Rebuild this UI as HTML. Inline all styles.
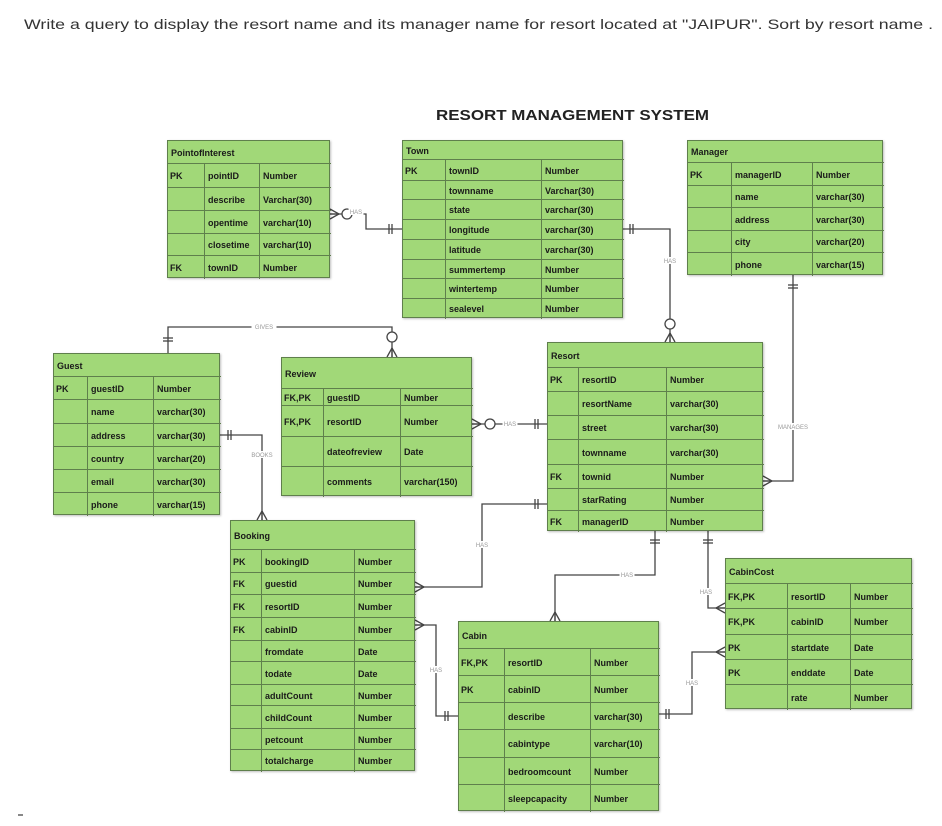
<!DOCTYPE html>
<html><head><meta charset="utf-8"><style>
body{margin:0;width:942px;height:826px;background:#fff;position:relative;overflow:hidden;font-family:"Liberation Sans",sans-serif}
.t{position:absolute;background:#a1d878;border:1px solid #5f7f4c;box-sizing:border-box;box-shadow:1px 1px 2px rgba(0,0,0,.25)}
.c{position:absolute;border-left:1px solid #5f7f4c;border-top:1px solid #5f7f4c;box-sizing:border-box;font-size:9px;font-weight:bold;color:#1a1a1a;display:flex;align-items:center;padding-left:3px;white-space:nowrap;overflow:hidden}
.h{position:absolute;font-size:9px;font-weight:bold;color:#1a1a1a;left:3px;top:0;display:flex;align-items:center}
svg{position:absolute;left:0;top:0}
</style></head><body>
<svg width="942" height="826">
<text x="24" y="29" font-size="14" fill="#333" textLength="909" lengthAdjust="spacingAndGlyphs" font-family="Liberation Sans">Write a query to display the resort name and its manager name for resort located at "JAIPUR". Sort by resort name .</text>
<text x="436" y="120" font-size="15" font-weight="bold" fill="#222" textLength="273" lengthAdjust="spacingAndGlyphs" font-family="Liberation Sans">RESORT MANAGEMENT SYSTEM</text>
<line x1="18" y1="815" x2="23" y2="815" stroke="#888" stroke-width="2"/>
</svg>
<div id="root"></div>
<svg id="lines" width="942" height="826"></svg>
<script>
function tbl(x,y,w,h,th,title,cols,rows,data){
 var d=document.createElement('div');d.className='t';
 d.style.cssText='left:'+x+'px;top:'+y+'px;width:'+(w-x)+'px;height:'+(h-y)+'px';
 var hh=document.createElement('div');hh.className='h';hh.textContent=title;hh.style.height=(th-y)+'px';d.appendChild(hh);
 for(var r=0;r<rows.length-1;r++){for(var c=0;c<3;c++){
  var e=document.createElement('div');e.className='c';
  var l=cols[c]-x, t=rows[r]-y;
  e.style.cssText='left:'+(c==0?-1:l-1)+'px;top:'+(t-1)+'px;width:'+(cols[c+1]-cols[c]+1)+'px;height:'+(rows[r+1]-rows[r]+1)+'px;'+(c==0?'border-left:none;':'');
  e.textContent=data[r][c];d.appendChild(e);}}
 document.body.appendChild(d);
}
tbl(167,140,330,278,163,'PointofInterest',[167,204,259,330],[163,187,210,233,255,278],
[['PK','pointID','Number'],['','describe','Varchar(30)'],['','opentime','varchar(10)'],['','closetime','varchar(10)'],['FK','townID','Number']]);
tbl(402,140,623,318,159,'Town',[402,445,541,623],[159,180,199,219,239,259,278,298,318],
[['PK','townID','Number'],['','townname','Varchar(30)'],['','state','varchar(30)'],['','longitude','varchar(30)'],['','latitude','varchar(30)'],['','summertemp','Number'],['','wintertemp','Number'],['','sealevel','Number']]);
tbl(687,140,883,275,162,'Manager',[687,731,812,883],[162,185,207,230,252,275],
[['PK','managerID','Number'],['','name','varchar(30)'],['','address','varchar(30)'],['','city','varchar(20)'],['','phone','varchar(15)']]);
tbl(53,353,220,515,376,'Guest',[53,87,153,220],[376,399,423,446,469,492,515],
[['PK','guestID','Number'],['','name','varchar(30)'],['','address','varchar(30)'],['','country','varchar(20)'],['','email','varchar(30)'],['','phone','varchar(15)']]);
tbl(281,357,472,496,388,'Review',[281,323,400,472],[388,405,436,466,496],
[['FK,PK','guestID','Number'],['FK,PK','resortID','Number'],['','dateofreview','Date'],['','comments','varchar(150)']]);
tbl(547,342,763,531,367,'Resort',[547,578,666,763],[367,391,415,439,464,488,510,531],
[['PK','resortID','Number'],['','resortName','varchar(30)'],['','street','varchar(30)'],['','townname','varchar(30)'],['FK','townid','Number'],['','starRating','Number'],['FK','managerID','Number']]);
tbl(230,520,415,771,549,'Booking',[230,261,354,415],[549,572,594,617,640,661,684,705,728,749,771],
[['PK','bookingID','Number'],['FK','guestid',' Number'],['FK','resortID','Number'],['FK','cabinID','Number'],['','fromdate','Date'],['','todate','Date'],['','adultCount','Number'],['','childCount','Number'],['','petcount','Number'],['','totalcharge','Number']]);
tbl(458,621,659,811,648,'Cabin',[458,504,590,659],[648,675,702,729,757,784,811],
[['FK,PK','resortID','Number'],['PK','cabinID','Number'],['','describe','varchar(30)'],['','cabintype','varchar(10)'],['','bedroomcount','Number'],['','sleepcapacity','Number']]);
tbl(725,558,912,709,583,'CabinCost',[725,787,850,912],[583,608,634,659,684,709],
[['FK,PK','resortID','Number'],['FK,PK','cabinID','Number'],['PK','startdate','Date'],['PK','enddate','Date'],['','rate','Number']]);

var s='';var st='stroke="#444" stroke-width="1.3" fill="none"';
function pl(p){s+='<polyline points="'+p+'" '+st+'/>';}
function bars(x,y,dir){
 if(dir=='h'){s+='<line x1="'+x+'" y1="'+(y-5)+'" x2="'+x+'" y2="'+(y+5)+'" '+st+'/><line x1="'+(x+3)+'" y1="'+(y-5)+'" x2="'+(x+3)+'" y2="'+(y+5)+'" '+st+'/>';}
 else{s+='<line x1="'+(x-5)+'" y1="'+y+'" x2="'+(x+5)+'" y2="'+y+'" '+st+'/><line x1="'+(x-5)+'" y1="'+(y+3)+'" x2="'+(x+5)+'" y2="'+(y+3)+'" '+st+'/>';}
}
function crow(x,y,dx,dy){
 var px=x+dx*9,py=y+dy*9;
 if(dx!=0){pl(x+','+(y-5)+' '+px+','+py+' '+x+','+(y+5));pl(x+','+y+' '+px+','+py);}
 else{pl((x-5)+','+y+' '+px+','+py+' '+(x+5)+','+y);pl(x+','+y+' '+px+','+py);}
}
function circ(x,y){s+='<circle cx="'+x+'" cy="'+y+'" r="5" fill="#fff" stroke="#444" stroke-width="1.3"/>';}
function lbl(x,y,t){s+='<rect x="'+(x-t.length*2.5)+'" y="'+(y-4)+'" width="'+(t.length*5)+'" height="7" fill="#fff"/><text x="'+x+'" y="'+(y+2)+'" font-size="6" fill="#999" text-anchor="middle" font-family="Liberation Sans">'+t+'</text>';}
pl('330,214 366,214 366,229 402,229');crow(330,214,1,0);circ(347,214);bars(389,229,'h');lbl(356,212,'HAS');
pl('623,229 670,229 670,342');bars(630,229,'h');circ(670,324);crow(670,342,0,-1);lbl(670,261,'HAS');
pl('793,275 793,481 763,481');bars(793,285,'v');crow(763,481,1,0);lbl(793,427,'MANAGES');
pl('168,353 168,327 392,327 392,357');bars(168,338,'v');circ(392,337);crow(392,357,0,-1);lbl(264,327,'GIVES');
pl('220,435 262,435 262,520');bars(228,435,'h');crow(262,520,0,-1);lbl(262,455,'BOOKS');
pl('472,424 547,424');crow(472,424,1,0);circ(490,424);bars(535,424,'h');lbl(510,424,'HAS');
pl('547,504 482,504 482,587 415,587');bars(535,504,'h');crow(415,587,1,0);lbl(482,545,'HAS');
pl('415,625 436,625 436,716 458,716');crow(415,625,1,0);bars(445,716,'h');lbl(436,670,'HAS');
pl('655,531 655,575 555,575 555,621');bars(655,540,'v');crow(555,621,0,-1);lbl(627,575,'HAS');
pl('708,531 708,608 725,608');bars(708,540,'v');crow(725,608,-1,0);lbl(706,592,'HAS');
pl('659,714 692,714 692,652 725,652');bars(666,714,'h');crow(725,652,-1,0);lbl(692,683,'HAS');
document.getElementById('lines').innerHTML=s;
</script>
</body></html>
